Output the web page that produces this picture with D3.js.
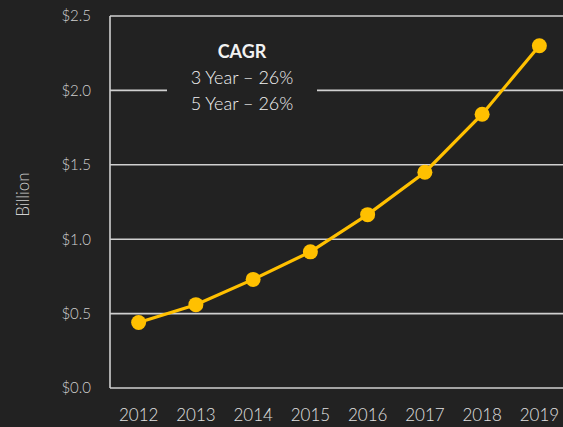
<!DOCTYPE html>
<html>
<head>
<meta charset="utf-8">
<script src="https://cdn.jsdelivr.net/npm/d3@7"></script>
<style>
  html, body { margin: 0; padding: 0; background: #222222; }
  text { font-family: Lato, "Open Sans", sans-serif; }
</style>
</head>
<body>
<script>
var years = ["2012", "2013", "2014", "2015", "2016", "2017", "2018", "2019"];
var revenue = [0.44, 0.56, 0.73, 0.915, 1.165, 1.45, 1.84, 2.30];
var yTicks = [0, 0.5, 1.0, 1.5, 2.0, 2.5];
var cagrLines = ["CAGR", "3 Year \u2013 26%", "5 Year \u2013 26%"];

var width = 563,
    height = 427,
    margin = {top: 16, right: -5, bottom: 39, left: 110};

var svg = d3.select("body").append("svg")
    .attr("width", width)
    .attr("height", height);

svg.append("rect")
    .attr("width", width)
    .attr("height", height)
    .attr("fill", "#222222");

var x = d3.scaleBand()
    .domain(years)
    .range([margin.left, width - margin.right]);

var y = d3.scaleLinear()
    .domain([0, 2.5])
    .range([height - margin.bottom, margin.top]);

// gridlines
svg.append("g")
    .selectAll("line")
    .data(yTicks)
    .enter().append("line")
    .attr("x1", margin.left)
    .attr("x2", width)
    .attr("y1", function(d) { return y(d); })
    .attr("y2", function(d) { return y(d); })
    .attr("stroke", "#d0d0d0")
    .attr("stroke-width", 1.6);

// y axis line
svg.append("line")
    .attr("x1", margin.left)
    .attr("x2", margin.left)
    .attr("y1", y(2.5))
    .attr("y2", y(0))
    .attr("stroke", "#d0d0d0")
    .attr("stroke-width", 1.6);

var yAxis = d3.axisLeft(y)
    .tickValues(yTicks)
    .tickSize(0)
    .tickPadding(19)
    .tickFormat(function(d) { return "$" + d3.format(".1f")(d); });

svg.append("g")
    .attr("transform", "translate(" + margin.left + ",0)")
    .call(yAxis)
    .call(function(g) { g.select(".domain").remove(); })
    .selectAll("text")
    .attr("fill", "#d0d0d0")
    .style("font-size", "15px")
    .style("font-weight", "300");

var xAxis = d3.axisBottom(x)
    .tickSize(0)
    .tickPadding(21);

svg.append("g")
    .attr("transform", "translate(0," + y(0) + ")")
    .call(xAxis)
    .call(function(g) { g.select(".domain").remove(); })
    .selectAll("text")
    .attr("fill", "#e0e0e0")
    .style("font-size", "17px")
    .style("font-weight", "300");

// axis title
svg.append("text")
    .attr("transform", "translate(29," + (y(1.3)) + ") rotate(-90)")
    .attr("text-anchor", "middle")
    .attr("fill", "#d0d0d0")
    .style("font-size", "17px")
    .style("font-weight", "300")
    .text("Billion");

// CAGR box (hides gridline behind)
svg.append("rect")
    .attr("x", 167)
    .attr("y", 34)
    .attr("width", 150)
    .attr("height", 84)
    .attr("fill", "#222222");

svg.append("g")
    .selectAll("text")
    .data(cagrLines)
    .enter().append("text")
    .attr("x", 242)
    .attr("y", function(d, i) { return 58 + i * 26; })
    .attr("text-anchor", "middle")
    .attr("fill", "#f2f2f2")
    .style("font-size", "18px")
    .style("font-weight", function(d, i) { return i === 0 ? "bold" : "300"; })
    .text(function(d) { return d; });

// line
var line = d3.line()
    .x(function(d, i) { return x(years[i]) + x.bandwidth() / 2; })
    .y(function(d) { return y(d); });

svg.append("path")
    .datum(revenue)
    .attr("d", line)
    .attr("fill", "none")
    .attr("stroke", "#FFC000")
    .attr("stroke-width", 3.2);

svg.selectAll(".dot")
    .data(revenue)
    .enter().append("circle")
    .attr("class", "dot")
    .attr("cx", function(d, i) { return x(years[i]) + x.bandwidth() / 2; })
    .attr("cy", function(d) { return y(d); })
    .attr("r", 7.5)
    .attr("fill", "#FFC000");
</script>
</body>
</html>
